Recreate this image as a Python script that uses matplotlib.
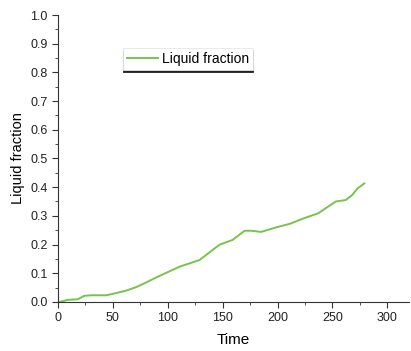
import matplotlib
matplotlib.use("Agg")
import matplotlib.pyplot as plt
from matplotlib.ticker import MultipleLocator, FormatStrFormatter

plt.rcParams["font.family"] = ["Liberation Sans", "DejaVu Sans"]

# values
time = [0, 2, 9, 18, 24, 30, 44, 50, 62, 71, 80, 90, 99, 111, 129,
        147, 159, 170, 176, 185, 199, 211, 223, 237, 246, 253, 262, 268, 273, 279]
liquid = [0.0, 0.0, 0.007, 0.009, 0.021, 0.023, 0.023, 0.028, 0.039, 0.051, 0.067,
          0.086, 0.102, 0.123, 0.146, 0.199, 0.216, 0.248, 0.248, 0.244, 0.26,
          0.272, 0.29, 0.309, 0.332, 0.35, 0.355, 0.373, 0.396, 0.413]

fig = plt.figure(figsize=(4.11, 3.51), dpi=100)
ax = fig.add_axes([0.141, 0.140, 0.855, 0.817])

ax.plot(time, liquid, color="#78c34c", lw=1.4, label="Liquid fraction")

ax.set_xlim(0, 320)
ax.set_ylim(0, 1.0)
ax.xaxis.set_major_locator(MultipleLocator(50))
ax.xaxis.set_minor_locator(MultipleLocator(25))
ax.yaxis.set_major_locator(MultipleLocator(0.1))
ax.yaxis.set_minor_locator(MultipleLocator(0.05))
ax.yaxis.set_major_formatter(FormatStrFormatter("%.1f"))

for s in ["top", "right"]:
    ax.spines[s].set_visible(False)
for s in ["left", "bottom"]:
    ax.spines[s].set_color("#333333")
    ax.spines[s].set_linewidth(0.8)

ax.tick_params(which="both", direction="out", color="#333333", labelsize=9,
               labelcolor="#222222")
ax.tick_params(which="major", length=4)
ax.tick_params(which="minor", length=2.5)

ax.set_xlabel("Time", fontsize=11, labelpad=6)
ax.set_ylabel("Liquid fraction", fontsize=10.5, labelpad=4)

leg = ax.legend(loc="upper left", bbox_to_anchor=(0.165, 0.91), fontsize=10,
                frameon=True, fancybox=False,
                shadow={"ox": 0, "oy": -1.2, "color": "#222222", "alpha": 1},
                handlelength=2.2, borderpad=0.3, handletextpad=0.3)
leg.get_frame().set_edgecolor("#e6e6e6")
leg.get_frame().set_linewidth(0.6)

fig.savefig("out.png", dpi=100)
